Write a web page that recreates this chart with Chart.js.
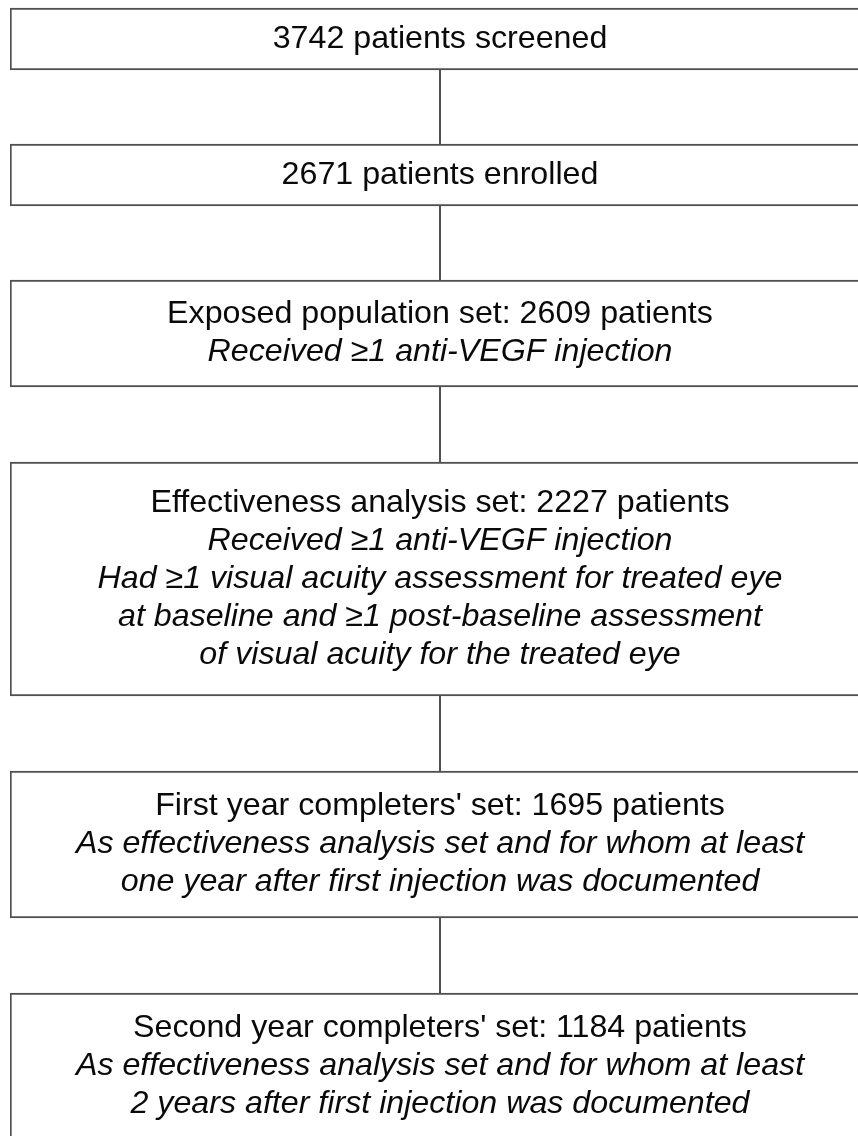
<!DOCTYPE html>
<html>
<head>
<meta charset="utf-8">
<script src="https://cdn.jsdelivr.net/npm/chart.js@4"></script>
<style>
  html, body { margin: 0; padding: 0; background: #ffffff; overflow: hidden; }
  #wrap { position: relative; width: 880px; height: 1136px; }
</style>
</head>
<body>
<div id="wrap"><canvas id="c"></canvas></div>
<script>
// ---- Data ----
const stepCounts = [3742, 2671, 2609, 2227, 1695, 1184];
const stepTitles = [
  '3742 patients screened',
  '2671 patients enrolled',
  'Exposed population set: 2609 patients',
  'Effectiveness analysis set: 2227 patients',
  "First year completers' set: 1695 patients",
  "Second year completers' set: 1184 patients"
];
const stepNotes = [
  [],
  [],
  ['Received \u22651 anti-VEGF injection'],
  ['Received \u22651 anti-VEGF injection',
   'Had \u22651 visual acuity assessment for treated eye',
   'at baseline and \u22651 post-baseline assessment',
   'of visual acuity for the treated eye'],
  ['As effectiveness analysis set and for whom at least',
   'one year after first injection was documented'],
  ['As effectiveness analysis set and for whom at least',
   '2 years after first injection was documented']
];

// ---- Layout (vertical extent of each box on the page scale) ----
const boxSpans = [[8, 70], [144, 206], [280, 387], [462, 696], [771, 918], [993, 1140]];

const FONT = '"Liberation Sans", Arial, Helvetica, sans-serif';
const FONT_SIZE = 32.2;
const LINE_H = 38;
const EDGE = '#505050';

const flowPlugin = {
  id: 'flowText',
  afterDatasetsDraw(chart) {
    const ctx = chart.ctx;
    const boxes = chart.data.datasets.map((d, i) => {
      const el = chart.getDatasetMeta(i).data[0];
      return { x: el.x, top: Math.min(el.y, el.base), bottom: Math.max(el.y, el.base) };
    });
    ctx.save();
    // connectors
    ctx.strokeStyle = EDGE;
    ctx.lineWidth = 2;
    const cx = boxes[0].x;
    for (let i = 0; i < boxes.length - 1; i++) {
      ctx.beginPath();
      ctx.moveTo(cx, boxes[i].bottom);
      ctx.lineTo(cx, boxes[i + 1].top);
      ctx.stroke();
    }
    // text
    ctx.fillStyle = '#0a0a0a';
    ctx.textAlign = 'center';
    ctx.textBaseline = 'middle';
    boxes.forEach((b, i) => {
      const lines = [{ t: stepTitles[i], it: false }].concat(stepNotes[i].map(t => ({ t, it: true })));
      const mid = (b.top + b.bottom) / 2;
      const n = lines.length;
      lines.forEach((ln, j) => {
        ctx.font = (ln.it ? 'italic ' : '') + FONT_SIZE + 'px ' + FONT;
        ctx.fillText(ln.t, cx, mid + (j - (n - 1) / 2) * LINE_H);
      });
    });
    ctx.restore();
  }
};

const datasets = stepCounts.map((v, i) => ({
  label: stepTitles[i],
  data: [boxSpans[i]],
  backgroundColor: '#ffffff',
  borderColor: EDGE,
  borderWidth: 2,
  borderSkipped: false,
  barPercentage: 1,
  categoryPercentage: 1,
  grouped: false
}));

new Chart(document.getElementById('c'), {
  type: 'bar',
  data: { labels: ['flow'], datasets },
  options: {
    responsive: true,
    maintainAspectRatio: false,
    animation: false,
    layout: { padding: { left: 10, right: 10, top: 0, bottom: 0 } },
    plugins: { legend: { display: false }, tooltip: { enabled: false }, title: { display: false } },
    scales: {
      x: { display: false },
      y: { display: false, reverse: true, min: 0, max: 1136 }
    }
  },
  plugins: [flowPlugin]
});
</script>
</body>
</html>
